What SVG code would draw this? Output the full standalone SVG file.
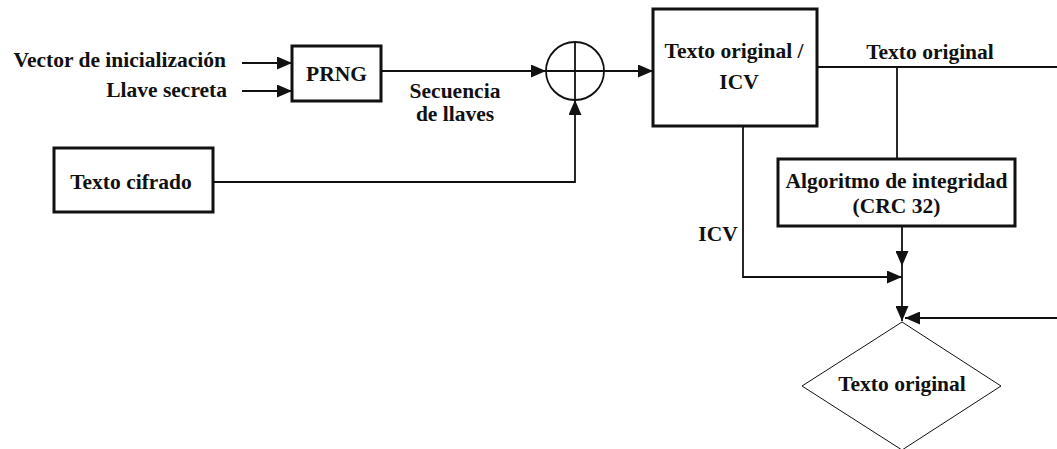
<svg xmlns="http://www.w3.org/2000/svg" width="1057" height="449" viewBox="0 0 1057 449">
<defs>
<style>
text{font-family:'Liberation Serif','Times New Roman',serif;font-weight:bold;font-size:21.5px;fill:#111}
.box{fill:#fff;stroke:#111;stroke-width:3}
.ln{fill:none;stroke:#111;stroke-width:1.8}
.mid{text-anchor:middle}
.end{text-anchor:end}
</style>
<marker id="ah" viewBox="0 0 15 13" refX="15" refY="6.5" markerWidth="15" markerHeight="13" markerUnits="userSpaceOnUse" orient="auto">
<path d="M0,0 L15,6.5 L0,13 Z" fill="#111"/>
</marker>
</defs>
<rect width="1057" height="449" fill="#fff"/>
<g id="connectors">
<line class="ln" x1="242" y1="63" x2="292" y2="63" marker-end="url(#ah)"/>
<line class="ln" x1="242" y1="91" x2="292" y2="91" marker-end="url(#ah)"/>
<line class="ln" x1="381" y1="71" x2="546" y2="71" marker-end="url(#ah)"/>
<line class="ln" x1="604" y1="71" x2="653" y2="71" marker-end="url(#ah)"/>
<polyline class="ln" points="213,182 575,182 575,100" marker-end="url(#ah)"/>
<line class="ln" x1="817" y1="67" x2="1057" y2="67"/>
<line class="ln" x1="897" y1="67" x2="897" y2="159"/>
<line class="ln" x1="902" y1="226" x2="902" y2="266" marker-end="url(#ah)"/>
<polyline class="ln" points="743,126 743,277 902,277" marker-end="url(#ah)"/>
<line class="ln" x1="902" y1="266" x2="902" y2="321" marker-end="url(#ah)"/>
<line class="ln" x1="1057" y1="318" x2="905" y2="318" marker-end="url(#ah)"/>
<text x="718" y="241" class="mid">ICV</text>
<text x="455" y="98" class="mid">Secuencia</text>
<text x="455" y="121" class="mid">de llaves</text>
<text x="930" y="59" class="mid">Texto original</text>
</g>
<g id="labels-in">
<text x="226" y="67" class="end">Vector de inicialización</text>
<text x="227" y="97" class="end">Llave secreta</text>
</g>
<g id="prng">
<rect class="box" x="292" y="46" width="89" height="55"/>
<text x="336.5" y="81" class="mid">PRNG</text>
</g>
<g id="xor">
<circle cx="575" cy="71" r="29" fill="#fff" stroke="#111" stroke-width="1.8"/>
<line class="ln" x1="546" y1="71" x2="604" y2="71"/>
<line class="ln" x1="575" y1="42" x2="575" y2="100"/>
</g>
<g id="cifrado">
<rect class="box" x="54" y="148" width="159" height="64"/>
<text x="131" y="189" class="mid">Texto cifrado</text>
</g>
<g id="original-icv">
<rect class="box" x="653" y="9" width="164" height="117"/>
<text x="734" y="58" class="mid">Texto original /</text>
<text x="739" y="89" class="mid">ICV</text>
</g>
<g id="crc">
<rect class="box" x="778" y="159" width="237" height="67"/>
<text x="896.5" y="188" class="mid">Algoritmo de integridad</text>
<text x="896.5" y="213" class="mid">(CRC 32)</text>
</g>
<g id="diamond">
<polygon points="902,322 1001,386 902,450 802,386" fill="#fff" stroke="#111" stroke-width="1"/>
<text x="902" y="391" class="mid">Texto original</text>
</g>
</svg>
